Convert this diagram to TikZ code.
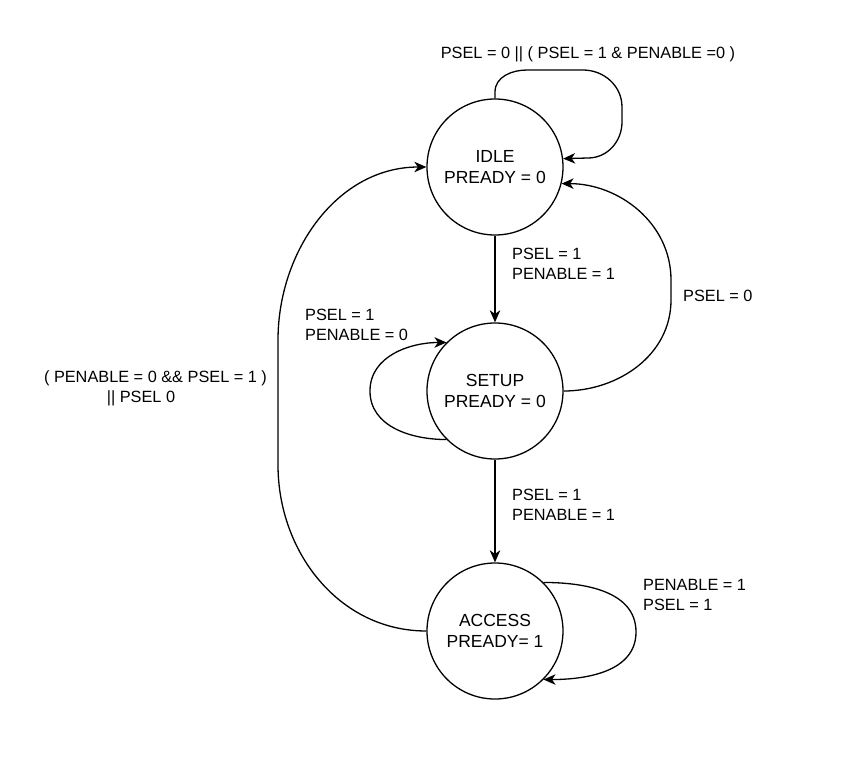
\documentclass[tikz,border=0pt]{standalone}
\usepackage{fontspec}
\setmainfont{Liberation Sans}
\usetikzlibrary{arrows.meta}
\begin{document}
\begin{tikzpicture}[x=1pt,y=-1pt,
  state/.style={circle,draw,line width=1.3pt,minimum size=136pt,inner sep=0pt,
    align=center,font=\fontsize{17.5}{21}\selectfont},
  lbl/.style={inner sep=0pt,align=left,anchor=west,font=\fontsize{16.3}{20}\selectfont},
  conn/.style={line width=1.3pt,-{Stealth[length=12pt,width=10.5pt,inset=3.5pt]}}
]
\useasboundingbox (0,0) rectangle (865,761);
\fill[white] (0,0) rectangle (865,761);

\node[state] (idle) at (495,167) {IDLE\\PREADY = 0};
\node[state] (setup) at (495,391) {SETUP\\PREADY = 0};
\node[state] (access) at (495,631) {ACCESS\\PREADY= 1};

% straight transitions
\draw[conn] (idle.south) -- (setup.north);
\draw[conn] (setup.south) -- (access.north);

% IDLE self loop
\draw[conn] (idle.north) -- (495,92) to[out=90,in=180] (527,70) -- (583,70)
  to[out=0,in=90] (622,107) -- (622,122) to[out=-90,in=0] (588,158) -- (idle.7);

% SETUP -> IDLE
\draw[conn] (setup.east) to[out=0,in=-90] (671,300) -- (671,280) to[out=90,in=0] (idle.-14);

% SETUP self loop
\draw[conn] (setup.-135) to[out=180,in=-90] (370,391) to[out=90,in=180] (setup.135);

% ACCESS self loop
\draw[conn] (access.45) to[out=0,in=90] (636,632) to[out=-90,in=0] (access.-45);

% ACCESS -> IDLE
\draw[conn] (access.west) to[out=180,in=-90] (278,465) -- (278,340)
  to[out=90,in=180] (idle.west);

% labels
\node[lbl] (l1) at (512,264) {PSEL = 1\\PENABLE = 1};
\node[lbl] (l2) at (512,505) {PSEL = 1\\PENABLE = 1};
\node[lbl] (l3) at (683,296) {PSEL = 0};
\node[lbl] (l4) at (305,324.5) {PSEL = 1\\PENABLE = 0};
\node[lbl] (l5) at (643,594.5) {PENABLE = 1\\PSEL = 1};
\node[lbl,anchor=center] (l6) at (588,54.6) {PSEL = 0 || ( PSEL = 1 \& PENABLE =0 )};
\node[lbl,anchor=center,align=center] (l7) at (155.5,388.6) {( PENABLE = 0 \&\& PSEL = 1 )\\|| PSEL 0\hspace*{29pt}};
\end{tikzpicture}
\end{document}
